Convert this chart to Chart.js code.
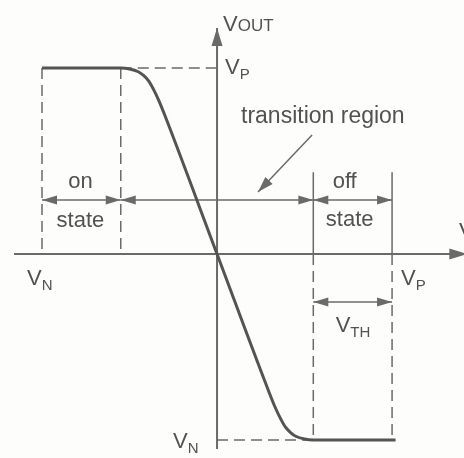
<!DOCTYPE html>
<html>
<head>
<meta charset="utf-8">
<script src="https://cdn.jsdelivr.net/npm/chart.js@4/dist/chart.umd.min.js"></script>
<style>
  html, body { margin: 0; padding: 0; background: #fdfdfb; }
  #wrap { width: 464px; height: 458px; position: relative; }
</style>
</head>
<body>
<div id="wrap"><canvas id="myChart"></canvas></div>
<script>
// transfer curve, V_OUT against V_IN (V_N = -1, V_P = +1)
const vIn  = [-1, -0.55, -0.5, -0.45, -0.42, -0.39, -0.36, -0.33, -0.3, 0, 0.3, 0.33, 0.36, 0.39, 0.42, 0.45, 0.5, 0.55, 1.02];
const vOut = [1, 1, 0.995, 0.98, 0.96, 0.93, 0.88, 0.82, 0.75, 0, -0.75, -0.82, -0.88, -0.93, -0.96, -0.98, -0.995, -1, -1];

// state boundaries on the input axis
const stateEdges = [-1, -0.55, 0.55, 1];
const railOut = [1, -1];
const axisXRange = [-1.16, 1.43];
const axisYRange = [-1.048, 1.215];

// labels
const stateLabels = ['on', 'state', 'off', 'state'];
const regionLabel = 'transition region';

const ink = '#525252';
const lineInk = '#6a6a6a';

function arrowHead(ctx, x, y, ang, len, hw) {
    ctx.beginPath();
    ctx.moveTo(x, y);
    ctx.lineTo(x - len * Math.cos(ang) + hw * Math.sin(ang), y - len * Math.sin(ang) - hw * Math.cos(ang));
    ctx.lineTo(x - len * Math.cos(ang) - hw * Math.sin(ang), y - len * Math.sin(ang) + hw * Math.cos(ang));
    ctx.closePath();
    ctx.fill();
}

function dimArrow(ctx, x1, x2, y) {
    ctx.beginPath();
    ctx.moveTo(x1, y);
    ctx.lineTo(x2, y);
    ctx.stroke();
    arrowHead(ctx, x1, y, Math.PI, 15, 4.5);
    arrowHead(ctx, x2, y, 0, 15, 4.5);
}

function subLabel(ctx, main, sub, x, y, drop, size) {
    ctx.font = '22px "Liberation Sans", Arial, sans-serif';
    ctx.fillText(main, x, y);
    let w = ctx.measureText(main).width;
    ctx.font = (size || 15) + 'px "Liberation Sans", Arial, sans-serif';
    ctx.fillText(sub, x + w, y + (drop === undefined ? 5 : drop));
}

const diagram = {
    id: 'diagram',
    beforeDatasetsDraw(chart) {
        const ctx = chart.ctx;
        const X = v => chart.scales.x.getPixelForValue(v);
        const Y = v => chart.scales.y.getPixelForValue(v);
        ctx.save();
        ctx.strokeStyle = lineInk;
        ctx.fillStyle = lineInk;

        // axes
        ctx.lineWidth = 2;
        ctx.beginPath();
        ctx.moveTo(X(axisXRange[0]), Y(0));
        ctx.lineTo(X(axisXRange[1]), Y(0));
        ctx.moveTo(X(0), Y(axisYRange[0]));
        ctx.lineTo(X(0), Y(axisYRange[1]));
        ctx.stroke();
        arrowHead(ctx, X(axisXRange[1]), Y(0), 0, 18, 5.5);
        arrowHead(ctx, X(0), Y(axisYRange[1]), -Math.PI / 2, 18, 5.5);

        // dashed guides
        ctx.lineWidth = 1.5;
        ctx.setLineDash([11, 6]);
        ctx.beginPath();
        ctx.moveTo(X(stateEdges[1]), Y(railOut[0]));
        ctx.lineTo(X(0), Y(railOut[0]));
        ctx.moveTo(X(0), Y(railOut[1]));
        ctx.lineTo(X(stateEdges[2]), Y(railOut[1]));
        ctx.moveTo(X(stateEdges[0]), Y(railOut[0]));
        ctx.lineTo(X(stateEdges[0]), Y(0));
        ctx.moveTo(X(stateEdges[1]), Y(railOut[0]));
        ctx.lineTo(X(stateEdges[1]), Y(0));
        ctx.moveTo(X(stateEdges[2]), Y(0));
        ctx.lineTo(X(stateEdges[2]), Y(railOut[1]));
        ctx.moveTo(X(stateEdges[3]), Y(0));
        ctx.lineTo(X(stateEdges[3]), Y(railOut[1]));
        ctx.stroke();
        ctx.setLineDash([]);

        // solid ticks above off state
        ctx.beginPath();
        ctx.moveTo(X(stateEdges[2]), Y(0.44));
        ctx.lineTo(X(stateEdges[2]), Y(0));
        ctx.moveTo(X(stateEdges[3]), Y(0.44));
        ctx.lineTo(X(stateEdges[3]), Y(0));
        ctx.stroke();

        // dimension arrows
        const rowY = Y(0.29);
        dimArrow(ctx, X(stateEdges[0]), X(stateEdges[1]), rowY);
        dimArrow(ctx, X(stateEdges[1]), X(stateEdges[2]), rowY);
        dimArrow(ctx, X(stateEdges[2]), X(stateEdges[3]), rowY);
        dimArrow(ctx, X(stateEdges[2]), X(stateEdges[3]), Y(-0.258));

        // pointer to transition region
        const x1 = X(0.543), y1 = Y(0.64), x2 = X(0.234), y2 = Y(0.333);
        ctx.beginPath();
        ctx.moveTo(x1, y1);
        ctx.lineTo(x2, y2);
        ctx.stroke();
        arrowHead(ctx, x2, y2, Math.atan2(y2 - y1, x2 - x1), 16, 5);

        // text
        ctx.fillStyle = ink;
        ctx.textBaseline = 'alphabetic';
        ctx.textAlign = 'center';
        ctx.font = '22px "Liberation Sans", Arial, sans-serif';
        const onMid = (X(stateEdges[0]) + X(stateEdges[1])) / 2;
        const offMid = (X(stateEdges[2]) + X(stateEdges[3])) / 2;
        ctx.fillText(stateLabels[0], onMid - 1, rowY - 12);
        ctx.fillText(stateLabels[1], onMid - 1, rowY + 27);
        ctx.fillText(stateLabels[2], offMid - 8, rowY - 12);
        ctx.fillText(stateLabels[3], offMid - 3, rowY + 26);
        ctx.textAlign = 'left';
        ctx.font = '23px "Liberation Sans", Arial, sans-serif';
        ctx.fillText(regionLabel, X(0.137), Y(0.704));

        subLabel(ctx, 'V', 'OUT', X(0) + 6, 31, 0, 17);
        subLabel(ctx, 'V', 'P', X(0) + 8, Y(railOut[0]) + 6);
        subLabel(ctx, 'V', 'N', X(0) - 44, Y(railOut[1]) + 8);
        subLabel(ctx, 'V', 'N', X(stateEdges[0]) - 15, Y(0) + 31);
        subLabel(ctx, 'V', 'P', X(stateEdges[3]) + 9, Y(0) + 31);
        subLabel(ctx, 'V', 'TH', offMid - 17, Y(-0.258) + 30);
        subLabel(ctx, 'V', 'IN', chart.width - 5, Y(0) - 16);
        ctx.restore();
    }
};

const data = {
    labels: vIn,
    datasets: [{
        label: 'V_OUT',
        data: vIn.map((v, i) => ({ x: v, y: vOut[i] })),
        borderColor: '#545454',
        borderWidth: 3,
        pointRadius: 0,
        cubicInterpolationMode: 'monotone',
        fill: false
    }]
};

const config = {
    type: 'line',
    data: data,
    options: {
        responsive: true,
        maintainAspectRatio: false,
        animation: false,
        layout: { padding: 0 },
        plugins: {
            legend: { display: false },
            tooltip: { enabled: false }
        },
        scales: {
            x: { type: 'linear', min: -1.24, max: 1.411, display: false },
            y: { type: 'linear', min: -1.097, max: 1.366, display: false }
        }
    },
    plugins: [diagram]
};

const myChart = new Chart(document.getElementById('myChart'), config);
</script>
</body>
</html>
